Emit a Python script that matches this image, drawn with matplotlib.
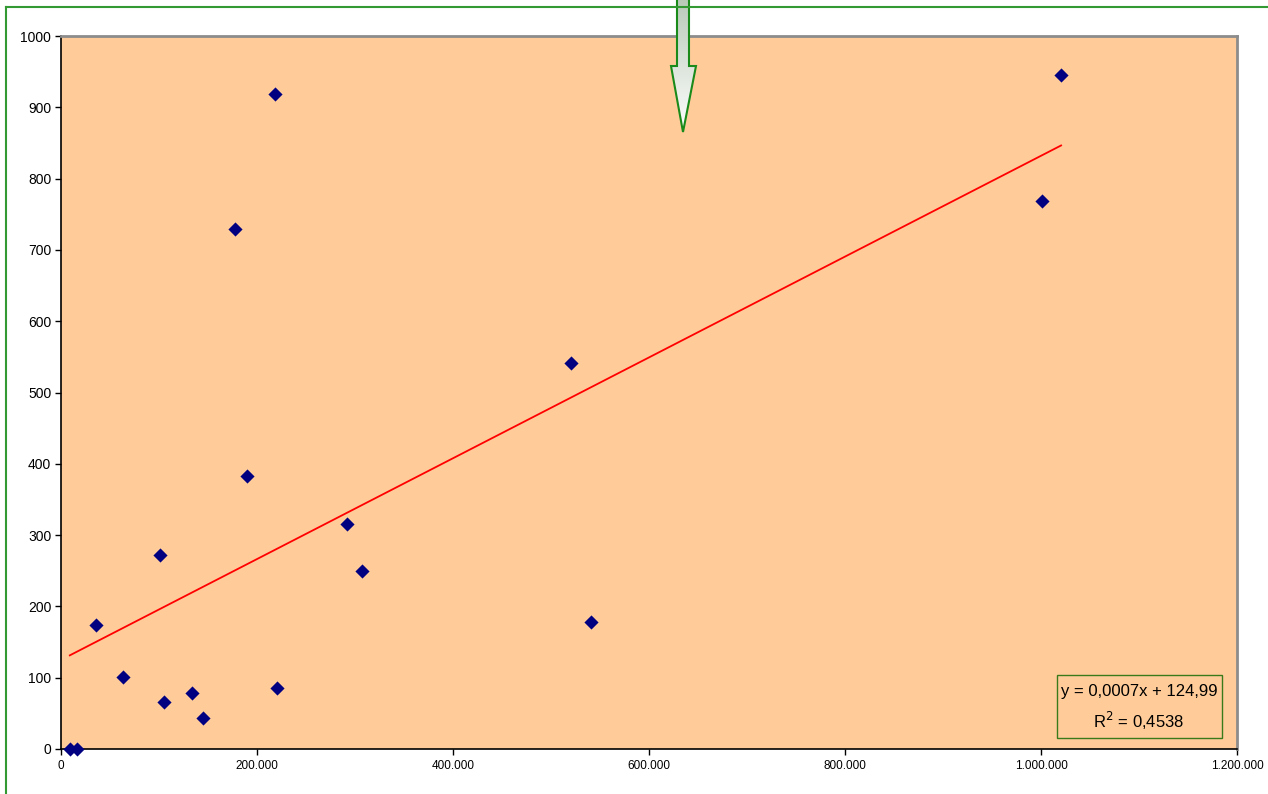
import numpy as np
import matplotlib
matplotlib.use("Agg")
import matplotlib.pyplot as plt
from matplotlib.patches import Polygon, Rectangle
from matplotlib.lines import Line2D
from matplotlib.ticker import FuncFormatter, MultipleLocator

plt.rcParams["font.family"] = ["Liberation Sans", "DejaVu Sans"]

# scatter data
x_vals = [9000, 16000, 36000, 63000, 101000, 105000, 134000, 145000, 177500,
          190000, 218500, 220500, 292000, 307000, 520500, 541000, 1001000, 1020500]
y_vals = [0, 0, 174, 101, 272, 66, 78, 44, 729,
          383, 919, 86, 315, 249, 542, 178, 769, 945]

# trendline as shown in the label
slope = 0.000707
intercept = 124.99
eq_line1 = "y = 0,0007x + 124,99"
eq_line2 = "R$^2$ = 0,4538"


def thousands(v, pos):
    if v == 0:
        return "0"
    return f"{int(v):,}".replace(",", ".")


fig = plt.figure(figsize=(12.68, 7.94), dpi=100)
W, H = 1268, 794
ax = fig.add_axes([61 / W, 1 - 749 / H, (1237 - 61) / W, (749 - 36) / H])
ax.set_facecolor("#FFCC99")

ax.scatter(x_vals, y_vals, marker="D", s=52, color="#000080", zorder=3, linewidths=0,
           clip_on=False)

xs = np.array([min(x_vals), max(x_vals)])
ax.plot(xs, slope * xs + intercept, color="#FF0000", linewidth=1.3, zorder=2)

ax.set_xlim(0, 1200000)
ax.set_ylim(0, 1000)
ax.xaxis.set_major_locator(MultipleLocator(200000))
ax.yaxis.set_major_locator(MultipleLocator(100))
ax.xaxis.set_major_formatter(FuncFormatter(thousands))
ax.tick_params(axis="x", labelsize=8.5, length=4, width=1, direction="out", pad=4)
ax.tick_params(axis="y", labelsize=10, length=4, width=1, direction="out", pad=3)

for side in ["left", "bottom"]:
    ax.spines[side].set_color("black")
    ax.spines[side].set_linewidth(1.2)
for side in ["top", "right"]:
    ax.spines[side].set_color("#8c8c8c")
    ax.spines[side].set_linewidth(2)

# trendline label box
ax.add_patch(Rectangle((0.847, 0.0154), 0.1403, 0.0884, transform=ax.transAxes,
                       facecolor="none", edgecolor="#3a7a1a", linewidth=1, zorder=4))
ax.text(0.9167, 0.0813, eq_line1, transform=ax.transAxes, ha="center", va="center",
        fontsize=12)
ax.text(0.9167, 0.0393, eq_line2, transform=ax.transAxes, ha="center", va="center",
        fontsize=12)

# green frame, partly visible
green = "#339933"
fig.add_artist(Line2D([6 / W, 6 / W], [0, 1 - 7 / H], color=green, linewidth=1.5))
fig.add_artist(Line2D([6 / W, 1], [1 - 7 / H, 1 - 7 / H], color=green, linewidth=1.5))

# down arrow from above the chart, with a gradient fill
overlay = fig.add_axes([0, 0, 1, 1], facecolor="none")
overlay.set_xlim(0, W)
overlay.set_ylim(H, 0)
overlay.axis("off")
arrow_pts = [(677, -2), (689, -2), (689, 66), (696, 66), (683, 132),
             (671, 66), (677, 66)]
grad = np.linspace(0, 1, 100).reshape(-1, 1)
img = overlay.imshow(grad, cmap=matplotlib.colors.LinearSegmentedColormap.from_list(
    "g", ["#b8c9b8", "#ffffff"]), extent=(668, 699, 132, -2), aspect="auto", zorder=4)
arrow = Polygon(arrow_pts, closed=True, facecolor="none", edgecolor="#1a8a1a",
                linewidth=1.5, zorder=5)
overlay.add_patch(arrow)
img.set_clip_path(arrow)
overlay.set_xlim(0, W)
overlay.set_ylim(H, 0)

fig.savefig("out.png", dpi=100)
